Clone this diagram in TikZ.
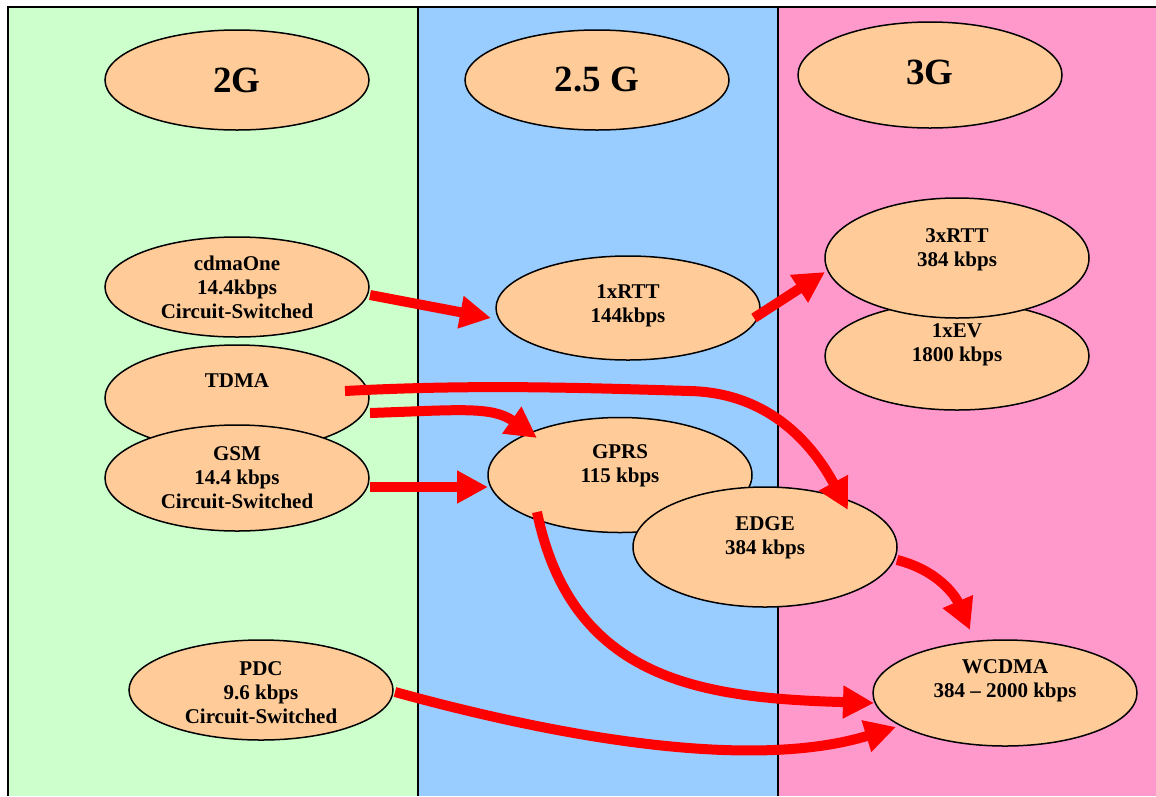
\documentclass[tikz,border=0pt]{standalone}
\usepackage{fontspec}
\setmainfont{Liberation Serif}
\usetikzlibrary{shapes.geometric,arrows.meta,calc}
\definecolor{gentwo}{HTML}{CCFFCC}
\definecolor{genhalf}{HTML}{99CCFF}
\definecolor{genthree}{HTML}{FF99CC}
\definecolor{peach}{HTML}{FFCC99}
\begin{document}
\begin{tikzpicture}[x=1pt,y=-1pt,
  oval/.style={ellipse,draw=black,line width=1.5pt,fill=peach,
    minimum width=264pt,minimum height=#1,inner sep=0pt},
  oval/.default=104pt,
  txt/.style={align=center,inner sep=0pt,
    font=\fontsize{21}{24}\selectfont\bfseries},
  title/.style={inner sep=0pt,font=\fontsize{37}{40}\selectfont\bfseries},
  flow/.style={draw=red,line width=10pt,-{Triangle[length=31pt,width=31pt]}},
  frame/.style={draw=black,line width=2pt}]
\useasboundingbox (0,0) rectangle (1156,796);

% generation columns
\fill[gentwo]   (8,7) rectangle (418,796);
\fill[genhalf]  (418,7) rectangle (778,796);
\fill[genthree] (778,7) rectangle (1156,796);
\draw[frame] (8,796) -- (8,7) -- (1156,7);
\draw[frame] (418,7) -- (418,796);
\draw[frame] (778,7) -- (778,796);

% column headings
\node[oval=100pt] (g2) at (237,80) {};
\node[title] (g2t) at (g2) {2G};
\node[oval=100pt] (g25) at (597,80) {};
\node[title] (g25t) at (g25) {2.5 G};
\node[oval=106pt] (g3) at (930,75) {};
\node[title] (g3t) at ([yshift=3pt]g3.center) {3G};

% 2G systems
\node[oval=100pt] (cdma) at (237,287) {};
\node[txt] (cdmat) at (cdma) {cdmaOne\\14.4kbps\\Circuit-Switched};
\node[oval=106pt] (tdma) at (237,398) {};
\node[txt] (tdmat) at ([yshift=17pt]tdma.center) {TDMA};
\node[oval=106pt] (gsm) at (237,478) {};
\node[txt] (gsmt) at (gsm) {GSM\\14.4 kbps\\Circuit-Switched};
\node[oval=100pt] (pdc) at (261,690) {};
\node[txt] (pdct) at ([yshift=-3pt]pdc.center) {PDC\\9.6 kbps\\Circuit-Switched};

% 2.5G systems
\node[oval=104pt] (rtt1) at (628,308) {};
\node[txt] (rtt1t) at ([yshift=2pt]rtt1.center) {1xRTT\\144kbps};
\node[oval=115pt] (gprs) at (620,475) {};
\node[txt] (gprst) at ([yshift=9pt]gprs.center) {GPRS\\115 kbps};
\node[oval=120pt] (edge) at (765,547) {};
\node[txt] (edget) at ([yshift=9pt]edge.center) {EDGE\\384 kbps};

% 3G systems
\node[oval=108pt] (ev) at (957,356) {};
\node[txt] (evt) at ([yshift=11pt]ev.center) {1xEV\\1800 kbps};
\node[oval=120pt] (rtt3) at (957,258) {};
\node[txt] (rtt3t) at ([yshift=8pt]rtt3.center) {3xRTT\\384 kbps};
\node[oval=106pt] (wcdma) at (1005,693) {};
\node[txt] (wcdmat) at ([yshift=12pt]wcdma.center) {WCDMA\\384 -- 2000 kbps};

% evolution paths
\draw[flow] ($(cdma)+(133,8)$) -- ($(rtt1)+(-137,10)$);
\draw[flow] ($(gsm)+(133,9)$) -- ($(gprs)+(-132,12)$);
\draw[flow] ($(rtt1)+(126,10)$) -- ($(rtt3)+(-132,14)$);
\draw[flow] ($(tdma)+(133,15)$) .. controls +(90,-3) and +(-45,-32) .. ($(gprs)+(-83,-37)$);
\draw[flow] ($(tdma)+(108,-7)$) .. controls +(130,-7) and +(-100,-3) .. (690,391)
  .. controls +(80,2) and +(-35,-65) .. ($(edge)+(83,-37)$);
\draw[flow] ($(gprs)+(-83,37)$) .. controls +(35,170) and +(-170,-5) .. ($(wcdma)+(-131,10)$);
\draw[flow] ($(edge)+(132,13)$) .. controls +(40,10) and +(-15,-35) .. ($(wcdma)+(-35,-63)$);
\draw[flow] ($(pdc)+(134,2)$) .. controls +(200,55) and +(-130,40) .. ($(wcdma)+(-109,34)$);
\end{tikzpicture}
\end{document}
